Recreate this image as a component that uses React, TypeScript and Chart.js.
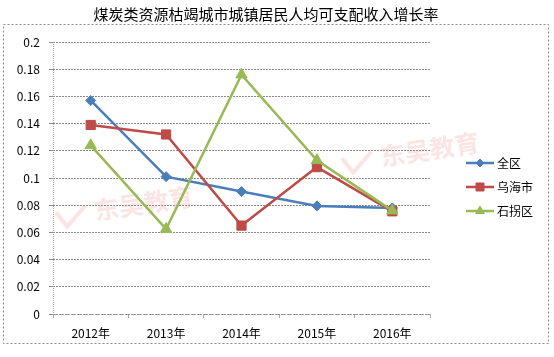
import React, { useEffect, useRef } from "react";
import { Chart, registerables } from "chart.js";

Chart.register(...registerables);

const TITLE = "煤炭类资源枯竭城市城镇居民人均可支配收入增长率";
const categories = ["2012年", "2013年", "2014年", "2015年", "2016年"];
const seriesNames = ["全区", "乌海市", "石拐区"];
const quanqu = [0.157, 0.101, 0.09, 0.0795, 0.078];
const wuhai = [0.139, 0.132, 0.065, 0.108, 0.0755];
const shiguai = [0.124, 0.0625, 0.176, 0.113, 0.076];
const colors = ["#4A7EBB", "#BE4B48", "#98B954"];
const pointStyles = ["rectRot", "rect", "triangle"];
const pointRadii = [5, 6.5, 6.5];
const WATERMARK = "东吴教育";

const FONT = "'Noto Sans CJK SC', 'Noto Sans', sans-serif";

function drawWatermark(ctx: CanvasRenderingContext2D, x: number, y: number) {
  ctx.save();
  ctx.translate(x, y);
  ctx.rotate(-0.15);
  ctx.fillStyle = "rgba(235,120,120,0.2)";
  ctx.strokeStyle = "rgba(235,120,120,0.2)";
  ctx.lineWidth = 4;
  ctx.beginPath();
  ctx.moveTo(0, -14);
  ctx.lineTo(9, 2);
  ctx.lineTo(30, -16);
  ctx.stroke();
  ctx.font = `bold 25px ${FONT}`;
  ctx.fillText(WATERMARK, 38, 0);
  ctx.restore();
}

const decorPlugin = {
  id: "decor",
  beforeDatasetsDraw(chart: any) {
    const ctx = chart.ctx;
    const { left, bottom } = chart.chartArea;
    drawWatermark(ctx, 58, 226);
    drawWatermark(ctx, 344, 172);
    ctx.save();
    ctx.strokeStyle = "#a6a6a6";
    ctx.lineWidth = 1;
    ctx.setLineDash([1, 1]);
    ctx.beginPath();
    ctx.moveTo(Math.round(left) + 0.5, chart.chartArea.top);
    ctx.lineTo(Math.round(left) + 0.5, bottom);
    ctx.moveTo(left, Math.round(bottom) + 0.5);
    ctx.lineTo(chart.chartArea.right, Math.round(bottom) + 0.5);
    ctx.stroke();
    ctx.restore();
  },
  afterDraw(chart: any) {
    const ctx = chart.ctx;
    ctx.save();
    ctx.strokeStyle = "#8c8c8c";
    ctx.lineWidth = 1;
    ctx.setLineDash([2, 2]);
    ctx.strokeRect(3.5, 24.5, 545, 319);
    ctx.setLineDash([]);
    ctx.fillStyle = "#000";
    ctx.font = `15px ${FONT}`;
    ctx.textAlign = "center";
    ctx.textBaseline = "middle";
    ctx.fillText(TITLE, 266, 14);
    const ys = [163, 187, 211];
    chart.data.datasets.forEach((ds: any, i: number) => {
      const y = ys[i];
      ctx.strokeStyle = ds.borderColor;
      ctx.lineWidth = 2.5;
      ctx.beginPath();
      ctx.moveTo(466, y);
      ctx.lineTo(494, y);
      ctx.stroke();
      ctx.fillStyle = ds.borderColor;
      ctx.strokeStyle = ds.borderColor;
      ctx.lineWidth = 1;
      drawMarker(ctx, ds.pointStyle, 480, y, i === 0 ? 4 : 5);
      ctx.fillStyle = "#000";
      ctx.font = `12px ${FONT}`;
      ctx.textAlign = "left";
      ctx.textBaseline = "middle";
      ctx.fillText(ds.label, 497, y);
    });
    ctx.restore();
  },
};

function drawMarker(ctx: CanvasRenderingContext2D, style: string, x: number, y: number, r: number) {
  ctx.beginPath();
  if (style === "rectRot") {
    ctx.moveTo(x, y - r);
    ctx.lineTo(x + r, y);
    ctx.lineTo(x, y + r);
    ctx.lineTo(x - r, y);
  } else if (style === "rect") {
    const s = r * 0.8;
    ctx.rect(x - s, y - s, 2 * s, 2 * s);
  } else {
    ctx.moveTo(x, y - r);
    ctx.lineTo(x + r * 0.866, y + r * 0.5);
    ctx.lineTo(x - r * 0.866, y + r * 0.5);
  }
  ctx.closePath();
  ctx.fill();
  ctx.stroke();
}

export default function App() {
  const ref = useRef<HTMLCanvasElement>(null);
  useEffect(() => {
    document.body.style.margin = "0";
    const seriesData = [quanqu, wuhai, shiguai];
    const chart = new Chart(ref.current!, {
      type: "line",
      data: {
        labels: categories,
        datasets: seriesNames.map((name, i) => ({
          label: name,
          data: seriesData[i],
          borderColor: colors[i],
          backgroundColor: colors[i],
          borderWidth: 2.5,
          pointStyle: pointStyles[i] as any,
          pointRadius: pointRadii[i],
          pointBorderWidth: 1,
          tension: 0,
          order: 2 - i,
        })),
      },
      options: {
        responsive: false,
        animation: false,
        layout: { padding: { left: 0, top: 42, right: 124, bottom: 0 } },
        plugins: {
          legend: { display: false },
          title: { display: false },
          tooltip: { enabled: false },
        },
        scales: {
          x: {
            type: "category",
            offset: true,
            grid: {
              offset: true,
              drawOnChartArea: false,
              drawTicks: true,
              tickLength: 4,
              color: "#a6a6a6",
            },
            border: { display: false },
            ticks: {
              color: "#000",
              font: { size: 12, family: FONT },
              padding: 8,
              maxRotation: 0,
            },
            afterFit: (s: any) => {
              s.height = 43;
            },
          },
          y: {
            min: 0,
            max: 0.2,
            grid: {
              color: "#8a8a8a",
              tickLength: 4,
              drawTicks: true,
            },
            border: { display: false, dash: [2, 1] },
            ticks: {
              stepSize: 0.02,
              color: "#000",
              font: { size: 12, family: FONT },
              padding: 9,
              callback: (v: any) => String(+Number(v).toFixed(2)),
            },
            afterFit: (s: any) => {
              s.width = 53;
            },
          },
        },
      },
      plugins: [decorPlugin],
    });
    return () => chart.destroy();
  }, []);
  return (
    <div style={{ width: 554, height: 357, background: "#fff" }}>
      <canvas ref={ref} width={554} height={357} style={{ display: "block" }} />
    </div>
  );
}
